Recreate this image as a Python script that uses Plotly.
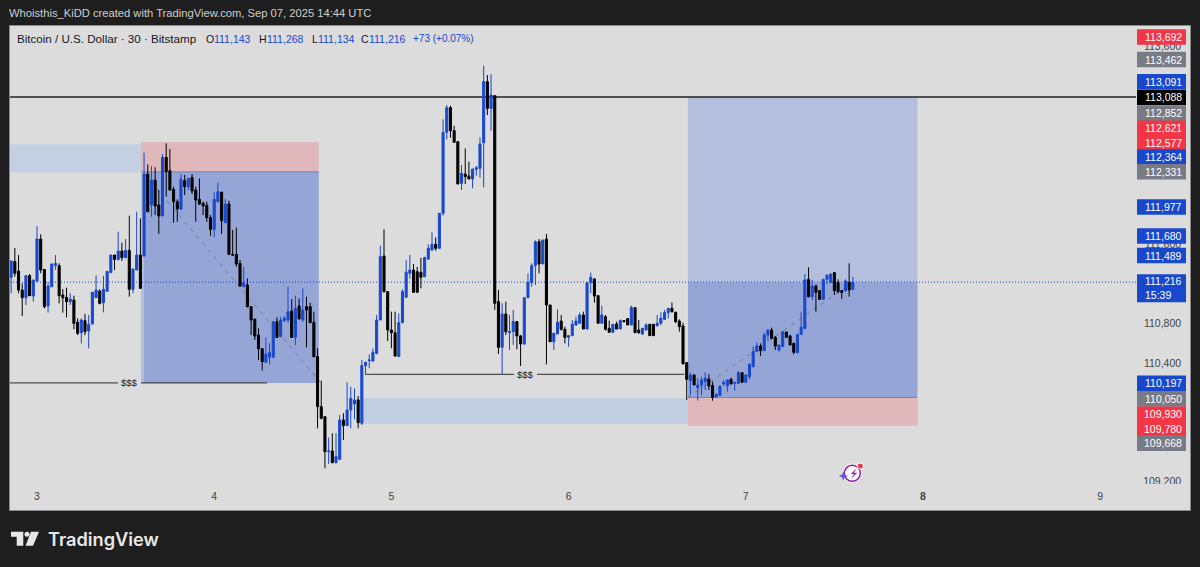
import pandas as pd
import plotly.graph_objects as go

# 30 minute bars
opens = [
    111265,111423,111328,111136,111059,111281,111076,111227,111652,111345,
    110975,111170,111385,111382,111086,111062,111018,111035,110810,110705,
    110826,110722,110793,111059,111126,111008,111123,111312,111490,111446,
    111531,111463,111537,111143,111339,111490,111480,112309,111998,112248,
    111996,111885,112478,112343,112154,112030,111955,112242,112181,112275,
    112147,112053,112013,111992,111868,111750,112030,112124,111817,112006,
    111497,111497,111406,111170,111187,110968,110840,110681,110543,110405,
    110456,110456,110816,110665,110826,110833,110924,110658,110975,110833,
    110968,110968,110809,110463,109957,109856,109502,109509,109391,109425,
    109822,109765,109923,109984,110025,109789,110372,110422,110419,110496,
    110833,111480,111120,110732,110705,110463,110806,111062,111305,111339,
    111322,111315,111272,111450,111541,111598,111558,111912,112731,112980,
    112748,112636,112215,112309,112289,112259,112357,112367,112626,113243,
    112973,113101,111019,110557,110894,110705,110715,110817,110672,110591,
    111059,111211,111383,111625,111400,111652,110985,110614,110692,110823,
    110739,110658,110675,110783,110800,110884,110742,111211,111248,111079,
    110800,110867,110749,110709,110793,110742,110827,110847,110783,110958,
    110732,110692,110732,110790,110790,110773,110800,110840,110908,110951,
    110911,110823,110773,110402,110220,110277,110149,110176,110210,110237,
    110170,110055,110072,110186,110166,110233,110193,110193,110301,110203,
    110260,110361,110513,110570,110523,110682,110732,110658,110530,110564,
    110712,110672,110597,110503,110688,110749,111244,111069,111177,111130,
    111042,111244,111214,111312,111214,111130,111130,111214,111143,
]
highs = [
    111433,111561,111490,111204,111288,111298,111248,111783,111699,111345,
    111214,111406,111490,111406,111146,111160,111103,111079,110850,110850,
    110894,110884,111113,111285,111143,111278,111328,111490,111490,111726,
    111615,111652,111888,111349,111928,111861,112525,112407,112390,112377,
    112147,112511,112619,112562,112181,112053,112309,112299,112265,112309,
    112181,112265,112030,112030,111895,112124,112222,112131,112056,112040,
    111743,111767,111440,111372,111254,110968,110850,110749,110547,110658,
    110597,110816,110860,110867,110874,111170,111045,111079,111052,111153,
    111069,111008,110917,110547,110220,109863,109644,109688,109688,109873,
    109890,110203,110159,110143,110065,110429,110412,110486,110547,110884,
    111585,111750,111120,110918,110918,110901,111143,111440,111490,111400,
    111370,111460,111474,111598,111720,111669,111912,112862,113007,113000,
    112798,112643,112400,112569,112434,112362,112390,112680,113405,113310,
    113320,113108,111137,111002,111019,110884,110935,110823,110682,111062,
    111305,111406,111638,111652,111642,111703,110985,110699,110941,110884,
    110766,110682,110833,110867,110908,110918,111211,111312,111255,111086,
    110978,110884,110827,110793,110817,110840,110833,110850,110978,110961,
    110833,110749,110800,110793,110790,110884,110911,110935,110951,111009,
    110918,110840,110806,110402,110301,110287,110244,110260,110304,110284,
    110210,110092,110176,110227,110233,110250,110203,110318,110301,110287,
    110395,110564,110607,110597,110705,110739,110756,110672,110580,110722,
    110715,110682,110604,110692,110917,111298,111366,111238,111194,111137,
    111248,111288,111305,111312,111244,111137,111244,111406,111268,
]
lows = [
    111103,111271,111103,110874,110985,111076,111018,111221,111305,110951,
    110907,111170,111340,111002,110907,110860,110985,110739,110681,110597,
    110681,110547,110793,111059,110991,110911,111116,111312,111339,111433,
    111430,111463,111069,111103,111339,111153,111473,111928,111878,111895,
    111703,111885,112080,112147,111817,111827,111945,112097,112147,112107,
    111827,111996,111895,111827,111682,111669,112019,111703,111817,111490,
    111480,111372,111170,111163,110961,110681,110631,110429,110321,110405,
    110385,110456,110651,110665,110816,110806,110658,110580,110833,110816,
    110557,110806,110456,109738,109829,109334,109378,109384,109384,109418,
    109620,109765,109738,109829,109738,109772,110277,110345,110412,110486,
    110833,111110,110621,110547,110463,110463,110806,111062,111250,111113,
    111113,111154,111265,111440,111534,111534,111558,111888,112660,112677,
    112630,112208,112148,112208,112259,112165,112293,112272,112175,112906,
    112748,110935,110490,110287,110682,110530,110581,110537,110227,110581,
    111059,111170,111187,111305,111400,110385,110614,110530,110692,110726,
    110597,110564,110675,110773,110800,110742,110742,111103,111009,110800,
    110800,110726,110705,110705,110742,110742,110810,110783,110783,110705,
    110692,110682,110732,110672,110672,110773,110783,110833,110850,110908,
    110800,110715,110389,110025,110075,110176,110018,110075,110126,110126,
    110018,110055,110068,110166,110109,110186,110119,110193,110203,110203,
    110233,110355,110513,110469,110523,110624,110638,110530,110513,110564,
    110658,110580,110486,110496,110688,110739,111062,111035,110918,111035,
    111042,111197,111204,111086,111103,111046,111120,111069,111134,
]
closes = [
    111430,111305,111136,111059,111281,111079,111234,111652,111339,110968,
    111177,111399,111405,111079,111059,111018,111045,110799,110698,110833,
    110715,110789,111113,111136,111001,111143,111325,111490,111446,111531,
    111463,111537,111143,111349,111490,111153,112309,111928,112248,111986,
    111885,112478,112333,112147,112030,111955,112255,112181,112265,112137,
    112046,112006,111986,111868,111750,112053,112131,111837,112006,111497,
    111490,111399,111177,111211,110968,110833,110671,110543,110412,110489,
    110503,110816,110658,110833,110850,110917,110658,110951,110847,110934,
    110934,110806,110462,109957,109839,109502,109509,109391,109452,109822,
    109765,109923,110041,110025,109795,110372,110405,110429,110507,110833,
    111474,111120,110732,110705,110469,110806,111120,111315,111339,111113,
    111113,111265,111464,111558,111598,111558,111912,112731,112980,112748,
    112630,112208,112316,112283,112259,112360,112373,112613,113243,112973,
    113108,111002,110557,110894,110715,110715,110817,110672,110591,111059,
    111211,111383,111625,111400,111642,110985,110614,110699,110810,110739,
    110658,110675,110790,110823,110884,110742,111211,111265,111076,110800,
    110884,110739,110709,110790,110742,110827,110817,110783,110961,110705,
    110705,110749,110783,110675,110675,110800,110850,110908,110951,110918,
    110817,110766,110389,110233,110277,110176,110176,110227,110244,110166,
    110051,110082,110159,110200,110227,110186,110203,110301,110203,110277,
    110385,110513,110570,110523,110682,110732,110648,110570,110580,110715,
    110658,110580,110506,110688,110759,111238,111069,111177,111113,111042,
    111244,111288,111298,111130,111120,111113,111228,111137,111216,
]
assert len(opens) == len(highs) == len(lows) == len(closes) == 229

day_ticks = ["2025-09-03", "2025-09-04", "2025-09-05", "2025-09-06", "2025-09-07", "2025-09-08", "2025-09-09"]
day_labels = ["3", "4", "5", "6", "7", "<b>8</b>", "9"]
# the other 400 steps sit fully behind the price tags
price_ticks = [109200, 110400, 110800, 111600, 113600]

# price tags on the right: text, colour, centre of the tag in pixels
RED, BLUE, GREY, BLACK = "#f23645", "#1848cc", "#787b86", "#000000"
tag_text = ["113,692", "113,462", "113,091", "113,088", "112,852", "112,621", "112,577", "112,364", "112,331",
            "111,977", "111,680", "111,489", "110,197", "110,050", "109,930", "109,780", "109,668"]
tag_color = [RED, GREY, BLUE, BLACK, GREY, RED, RED, BLUE, GREY, BLUE, BLUE, BLUE, BLUE, GREY, RED, RED, GREY]
tag_y = [37, 59.5, 81.7, 97.5, 113.3, 128.2, 142.9, 157, 171.7, 207, 236, 255.5, 383.3, 398.9, 414.2, 428.7, 443.2]

# header parts: text, colour, left edge in pixels, font size
head_text = ["Bitcoin / U.S. Dollar · 30 · Bitstamp", "O", "111,143", "H", "111,268", "L", "111,134", "C", "111,216", "+73 (+0.07%)"]
head_color = ["#131722", "#131722", BLUE, "#131722", BLUE, "#131722", BLUE, "#131722", BLUE, BLUE]
head_x = [17, 205.5, 213.5, 258.5, 267, 311.5, 318, 361, 369, 412.5]
head_size = [11.6, 10.5, 10.5, 10.5, 10.5, 10.5, 10.5, 10.5, 10.5, 10]

BG = "#dcdcdc"
DARK = "#1e1e1e"
X_START, X_END = "2025-09-02 20:20:36", "2025-09-09 12:10:00"
LINE_END = "2025-09-09 04:51"
W, H, L, T, R, B = 1200, 567, 10, 26, 10, 57


def px(x):
    return (x - L) / (W - L - R)


def py(y):
    return 1 - (y - T) / (H - T - B)


times = pd.date_range("2025-09-02 20:30", periods=len(closes), freq="30min")

fig = go.Figure(go.Candlestick(
    x=times, open=opens, high=highs, low=lows, close=closes,
    increasing=dict(line=dict(color=BLUE, width=1), fillcolor=BLUE),
    decreasing=dict(line=dict(color="#000000", width=1), fillcolor="#000000"),
    whiskerwidth=0, showlegend=False, hoverinfo="skip",
))


def zone(x0, x1, y0, y1, color):
    fig.add_shape(type="rect", x0=x0, x1=x1, y0=y0, y1=y1, fillcolor=color, line_width=0, layer="below")


def hline(x0, x1, y, color, width=1, dash="solid"):
    fig.add_shape(type="line", x0=x0, x1=x1, y0=y, y1=y, line=dict(color=color, width=width, dash=dash), layer="below")


# first (short) position
zone(X_START, "2025-09-03 14:05", 112325, 112610, "#c3cfe2")
zone("2025-09-03 14:05", "2025-09-04 14:10", 112331, 112630, "#e0b8bb")
zone("2025-09-03 14:05", "2025-09-04 14:10", 110197, 112331, "#95a6d6")
zone("2025-09-03 14:05", "2025-09-03 14:30", 110197, 112331, "#b1bedc")
hline("2025-09-03 14:05", "2025-09-04 14:10", 112331, "#7384ab")
# second (long) position
zone("2025-09-04 20:00", "2025-09-06 16:10", 109782, 110041, "#c1cee2")
zone("2025-09-06 16:10", "2025-09-07 23:15", 111216, 113088, "#b3bfdc")
zone("2025-09-06 16:10", "2025-09-07 23:15", 110050, 111216, "#95a6d6")
zone("2025-09-06 16:10", "2025-09-07 23:15", 109765, 110050, "#e0b8bb")
hline("2025-09-06 16:10", "2025-09-07 23:15", 110050, "#7384ab")

hline(X_START, LINE_END, 113088, "#222222", 1.5)
hline(X_START, LINE_END, 111216, BLUE, 1, "1px,2px")
hline(X_START, "2025-09-04 07:10", 110197, "#2a2a2e")
hline("2025-09-04 20:35", "2025-09-06 15:40", 110284, "#2a2a2e")

# dashed path of each position
fig.add_shape(type="line", x0="2025-09-03 14:30", x1="2025-09-04 14:20", y0=112310, y1=110207,
              line=dict(color="#7a7a88", width=1, dash="4px,5px"), layer="below")
fig.add_shape(type="line", x0="2025-09-06 16:10", x1="2025-09-07 14:30", y0=110050, y1=111216,
              line=dict(color="#7a7a88", width=1, dash="4px,5px"), layer="below")

for x, y in [("2025-09-03 12:28", 110197), ("2025-09-05 18:06", 110284)]:
    fig.add_annotation(x=x, y=y, text="$$$", showarrow=False, bgcolor=BG, borderpad=3, borderwidth=0,
                       font=dict(family="Liberation Sans", size=9.5, color="#222222"))


def paper_box(x0, x1, y0, y1, color):
    fig.add_shape(type="rect", xref="paper", yref="paper", x0=px(x0), x1=px(x1), y0=py(y1), y1=py(y0),
                  fillcolor=color, line_width=0, layer="above")


def tag_label(text, x, y, color="#ffffff", anchor="right", size=10.5):
    fig.add_annotation(xref="paper", yref="paper", x=px(x), y=py(y), text=text, showarrow=False, xanchor=anchor,
                       yanchor="middle", align="left", borderpad=0, borderwidth=0,
                       font=dict(family="Liberation Sans", size=size, color=color))


# hides the lower half of the 109,200 tick, like the time scale does
paper_box(1137, 1190, 484, 509, BG)

for text, color, y in zip(tag_text, tag_color, tag_y):
    paper_box(1137, 1186, y - 7.8, y + 7.8, color)
    tag_label(text, 1181.5, y)
paper_box(1137, 1186, 274.3, 302.3, BLUE)
tag_label("111,216<br>15:39", 1144.5, 288.3, anchor="left")

for text, color, x, size in zip(head_text, head_color, head_x, head_size):
    tag_label(text, x, 39, color, "left", size)

tag_label("Whoisthis_KiDD created with TradingView.com, Sep 07, 2025 14:44 UTC", 9, 13.5, "#cfcfcf", "left", 11.2)

# TradingView logo
logo = "#e8e8e8"
logo_paths = [
    [(11, 531.7), (23.3, 531.7), (23.3, 545.7), (16.7, 545.7), (16.7, 536.7), (11, 536.7)],
    [(31, 531.7), (39, 531.7), (33, 545.7), (25.5, 545.7)],
]
for pts in logo_paths:
    path = "M " + " L ".join(f"{px(a):.5f},{py(b):.5f}" for a, b in pts) + " Z"
    fig.add_shape(type="path", xref="paper", yref="paper", path=path, fillcolor=logo, line_width=0)


def dot(cx, cy, r, fill, line=None, width=0):
    fig.add_shape(type="circle", xref="paper", yref="paper", x0=px(cx - r), x1=px(cx + r), y0=py(cy + r), y1=py(cy - r),
                  fillcolor=fill, line=dict(color=line, width=width) if line else dict(width=0))


dot(27, 534.2, 2.5, logo)
fig.add_annotation(xref="paper", yref="paper", x=px(46.5), y=py(539), text="TradingView", showarrow=False, xanchor="left",
                   yanchor="middle", borderpad=0, font=dict(family="Inter", size=18.2, color=logo, weight=600))

# small boost icon
dot(852.3, 473.3, 10, "#f4eef6")
dot(852.3, 473.3, 8, "#ffffff", "#8e24aa", 1.5)
bolt = [(856.7, 468.3), (850.7, 474), (854, 474), (850.7, 479.3), (857.3, 472.7), (854, 472.7)]
fig.add_shape(type="path", xref="paper", yref="paper", line_width=0, fillcolor="#9c27b0",
              path="M " + " L ".join(f"{px(a):.5f},{py(b):.5f}" for a, b in bolt) + " Z")
star = [(843.3, 471.5), (844.6, 474.7), (847.8, 476), (844.6, 477.3), (843.3, 480.5), (842, 477.3), (838.8, 476), (842, 474.7)]
fig.add_shape(type="path", xref="paper", yref="paper", line_width=0, fillcolor="#5a55e6",
              path="M " + " L ".join(f"{px(a):.5f},{py(b):.5f}" for a, b in star) + " Z")
dot(860.3, 466, 3.6, "#ffffff")
dot(860.3, 466, 2.6, RED)

fig.update_layout(
    width=W, height=H, margin=dict(l=L, r=R, t=T, b=B, pad=0),
    paper_bgcolor=DARK, plot_bgcolor=BG, showlegend=False, hovermode=False, boxgap=0.2,
    font=dict(family="Liberation Sans", size=10.5, color="#131722"),
    xaxis=dict(range=[X_START, X_END], rangeslider_visible=False, showgrid=False, zeroline=False,
               tickmode="array", tickvals=day_ticks, ticktext=day_labels, ticklabelposition="inside",
               ticks="inside", ticklen=7, tickcolor=BG, showline=True, linecolor="#8a8a8a", linewidth=1, mirror=True),
    yaxis=dict(range=[108912, 113806], side="right", showgrid=False, zeroline=False,
               tickmode="array", tickvals=price_ticks, tickformat=",d", ticklabelposition="inside",
               ticks="inside", ticklen=8, tickcolor=BG, showline=True, linecolor="#8a8a8a", linewidth=1, mirror=True),
)

fig.write_html("out.html", config=dict(displayModeBar=False),
               post_script="document.body.style.margin='0';document.body.style.overflow='hidden';")
